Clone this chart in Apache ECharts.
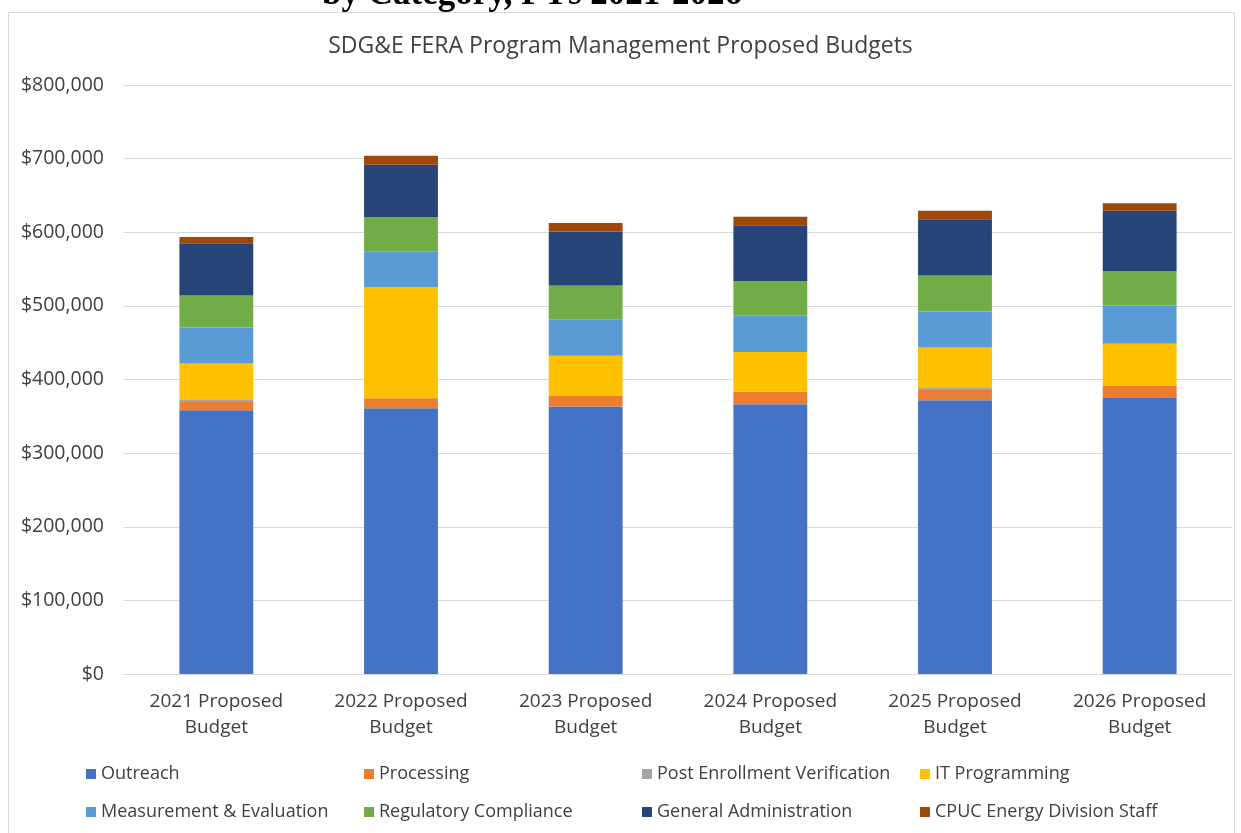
<!DOCTYPE html>
<html>
<head>
<meta charset="utf-8">
<title>SDG&E FERA Program Management Proposed Budgets</title>
<script src="https://cdn.jsdelivr.net/npm/echarts@6/dist/echarts.min.js"></script>
<style>
  html, body { margin: 0; padding: 0; background: #fff; }
  #chart { width: 1241px; height: 833px; }
</style>
</head>
<body>
<div id="chart"></div>
<script>
// categories and series values
const years = ['2021 Proposed\nBudget', '2022 Proposed\nBudget', '2023 Proposed\nBudget',
  '2024 Proposed\nBudget', '2025 Proposed\nBudget', '2026 Proposed\nBudget']

const outreach = [358300, 361000, 363200, 366400, 371900, 375000]
const processing = [11300, 13600, 14500, 16800, 14000, 16300]
const postEnrollment = [2700, 0, 0, 0, 2700, 0]
const itProgramming = [49300, 150800, 54400, 54300, 54700, 57100]
const measurement = [48900, 48900, 48900, 49300, 49000, 52000]
const regulatory = [43500, 46200, 46600, 46800, 48900, 46700]
const generalAdmin = [71200, 71100, 73400, 76000, 76600, 82000]
const cpucStaff = [8200, 12200, 11400, 11300, 11300, 10400]

const seriesNames = ['Outreach', 'Processing', 'Post Enrollment Verification', 'IT Programming',
  'Measurement & Evaluation', 'Regulatory Compliance', 'General Administration', 'CPUC Energy Division Staff']
const seriesData = [outreach, processing, postEnrollment, itProgramming,
  measurement, regulatory, generalAdmin, cpucStaff]
const colors = ['#4472c4', '#ed7d31', '#a5a5a5', '#ffc000', '#5b9bd5', '#70ad47', '#264478', '#9e480e']

const font = '"Open Sans", "Noto Sans", sans-serif'
const textColor = '#404040'

const chart = echarts.init(document.getElementById('chart'))

chart.setOption({
  animation: false,
  color: colors,
  title: {
    text: 'SDG&E FERA Program Management Proposed Budgets',
    left: 'center',
    top: 30,
    textStyle: { fontFamily: font, fontSize: 23, fontWeight: 'normal', color: textColor }
  },
  graphic: [
    {
      type: 'rect',
      shape: { x: 8.5, y: 12.5, width: 1226, height: 840 },
      style: { fill: 'none', stroke: '#d9d9d9', lineWidth: 1 },
      silent: true
    },
    {
      // caption above the frame, cut off by the top edge as in the source
      type: 'text',
      left: 322,
      top: -23,
      style: {
        text: 'by Category, PYs 2021-2026',
        font: 'bold 35px "Liberation Serif", serif',
        fill: '#000'
      },
      silent: true
    }
  ],
  legend: {
    left: 81,
    top: 750,
    width: 1130,
    itemGap: 0,
    itemWidth: 10,
    itemHeight: 10,
    icon: 'rect',
    data: seriesNames,
    textStyle: {
      fontFamily: font, fontSize: 18, color: textColor,
      width: 263, lineHeight: 38
    }
  },
  grid: {
    left: 124,
    right: 9,
    top: 85,
    bottom: 159
  },
  xAxis: {
    type: 'category',
    data: years,
    axisTick: { show: false },
    axisLine: { lineStyle: { color: '#d9d9d9', width: 1 } },
    axisLabel: {
      fontFamily: font, fontSize: 19, color: textColor,
      lineHeight: 26, margin: 15, interval: 0
    }
  },
  yAxis: {
    type: 'value',
    min: 0,
    max: 800000,
    interval: 100000,
    axisLine: { show: false },
    axisTick: { show: false },
    splitLine: { lineStyle: { color: '#d9d9d9', width: 1 } },
    axisLabel: {
      fontFamily: font, fontSize: 19.5, color: textColor, margin: 20,
      formatter: v => '$' + v.toLocaleString('en-US')
    }
  },
  series: seriesNames.map((name, i) => ({
    name: name,
    type: 'bar',
    stack: 'total',
    barCategoryGap: '60%',
    data: seriesData[i]
  }))
})
</script>
</body>
</html>
